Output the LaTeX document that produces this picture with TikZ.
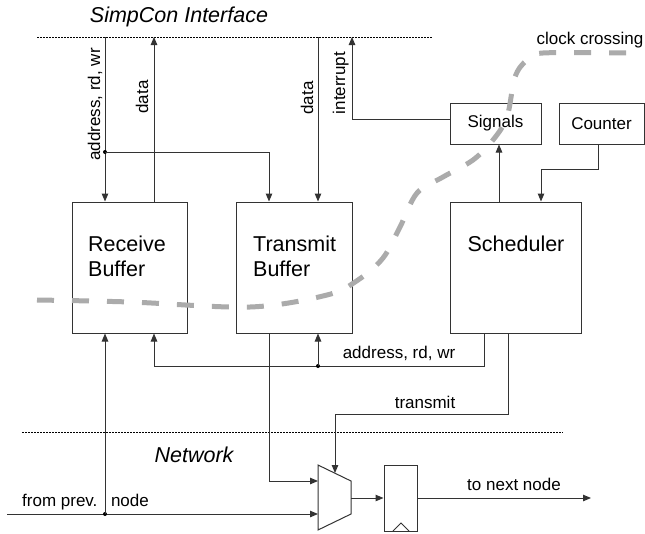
\documentclass[tikz,border=0pt]{standalone}
\usepackage{fontspec}
\setmainfont{Liberation Sans}
\usetikzlibrary{arrows.meta,calc}
\begin{document}
\begin{tikzpicture}[x=1pt,y=-1pt,
  wire/.style={draw=black!80, line width=1pt},
  arr/.style={wire, -{Triangle[length=8pt,width=6.5pt]}},
  box/.style={draw=black!80, line width=1pt, rectangle, inner sep=0pt},
  lbl/.style={font=\fontsize{17}{20}\selectfont, inner sep=0pt},
  big/.style={font=\fontsize{21.5}{25}\selectfont, inner sep=0pt},
  ttl/.style={font=\fontsize{21.5}{25}\selectfont\itshape, inner sep=0pt},
  bound/.style={draw=black, line width=0.7pt, dash pattern=on 1.5pt off 1.5pt},
  jdot/.style={circle, fill=black, inner sep=0pt, minimum size=4pt},
  clk/.style={draw=black!33, line width=5pt, dash pattern=on 17pt off 18pt}
]
\useasboundingbox (0,0) rectangle (645,533);

% boundaries
\coordinate (ta) at (37,37);   \coordinate (tb2) at (433,37);
\coordinate (ba) at (22,432);  \coordinate (bb) at (563,432);
\draw[bound] (ta) -- (tb2);
\draw[bound] (ba) -- (bb);
\node[ttl, anchor=base] (title) at (179,22) {SimpCon Interface};
\node[ttl, anchor=base] (net) at (194,462) {Network};

% boxes
\node[box, minimum width=115pt, minimum height=131pt] (rb) at (129.5,267.5) {};
\node[box, minimum width=116pt, minimum height=131pt] (tb) at (294,267.5) {};
\node[box, minimum width=131pt, minimum height=131pt] (sch) at (515.5,267.5) {};
\node[box, lbl, minimum width=91pt, minimum height=41pt] (sig) at (495.5,123.5) {Signals};
\node[box, lbl, minimum width=85pt, minimum height=41pt] (cnt) at (601.5,123.5) {Counter};
\node[big, anchor=base west, align=left] (rbt) at (88,276) {Receive\\Buffer};
\node[big, anchor=base west, align=left] (tbt) at (253,276) {Transmit\\Buffer};
\node[big, anchor=base] (scht) at (516,251) {Scheduler};

% top bus
\coordinate (t1) at (105,37);
\coordinate (t2) at (154,37);
\coordinate (t3) at (318,37);
\coordinate (t4) at (352,37);
\draw[arr] (t1) -- (t1 |- rb.north);
\draw[arr] (t2 |- rb.north) -- (t2);
\node[jdot] (j1) at (105,152) {};
\coordinate (k1) at (269,152);
\draw[arr] (j1.center) -- (k1) -- (k1 |- tb.north);
\draw[arr] (t3) -- (t3 |- tb.north);
\draw[arr] ([yshift=4pt]sig.west) -| (t4);
\node[lbl, rotate=90, anchor=base] (la) at (100,104.5) {address, rd, wr};
\node[lbl, rotate=90, anchor=base] (ld1) at (148,97) {data};
\node[lbl, rotate=90, anchor=base] (ld2) at (313,98) {data};
\node[lbl, rotate=90, anchor=base] (li) at (345,83) {interrupt};

% scheduler links
\coordinate (s1) at (499,0);
\draw[arr] (s1 |- sch.north) -- (s1 |- sig.south);
\coordinate (c1) at (598,169);
\coordinate (c2) at (541,169);
\draw[arr] (c1 |- cnt.south) -- (c1) -- (c2) -- (c2 |- sch.north);

% bottom bus
\coordinate (b1) at (154,366);
\coordinate (b3) at (484,366);
\draw[arr] (b3 |- sch.south) -- (b3) -- (b1) -- (b1 |- rb.south);
\node[jdot] (j2) at (318,366) {};
\draw[arr] (j2.center) -- (j2.center |- tb.south);
\node[lbl, anchor=base] (lb) at (399,358) {address, rd, wr};

% multiplexer and register
\coordinate (m1) at (318,465);
\coordinate (m2) at (351,481);
\coordinate (m3) at (351,514);
\coordinate (m4) at (318,530);
\draw[wire, line join=miter] (m1) -- (m2) -- (m3) -- (m4) -- cycle;
\node[box, minimum width=33pt, minimum height=66pt] (reg) at (400.5,498) {};
\coordinate (r1) at (393,531);
\coordinate (r2) at (401,523);
\coordinate (r3) at (409,531);
\draw[wire, line width=0.8pt] (r1) -- (r2) -- (r3);

\coordinate (tx) at (269,481);
\coordinate (min1) at (318,481);
\draw[arr] (tx |- tb.south) -- (tx) -- (min1);

\coordinate (s2) at (508,414);
\coordinate (s3) at (335,414);
\coordinate (mtop) at (335,473);
\draw[arr] (s2 |- sch.south) -- (s2) -- (s3) -- (mtop);
\node[lbl, anchor=base] (ltx) at (425,408) {transmit};

\coordinate (fp) at (7,514);
\coordinate (min2) at (318,514);
\draw[arr] (fp) -- (min2);
\node[jdot] (j3) at (105,514) {};
\draw[arr] (j3.center) -- (j3.center |- rb.south);
\node[lbl, anchor=base west] (lfp) at (22,506) {from prev.\hspace{7.3pt} node};

\coordinate (mout) at (351,498);
\draw[arr] (mout) -- (reg.west);
\coordinate (out) at (591,498);
\draw[arr] (reg.east) -- (out);
\node[lbl, anchor=base] (lout) at (514,490) {to next node};

% clock crossing
\draw[clk] plot[smooth, tension=0.55] coordinates {(37,300) (130,302) (250,307) (327,295) (358,280) (383,258) (400,227) (417,193) (443,177) (473,160) (493,140) (507,117) (515,77) (527,60) (543,53) (627,53)};
\node[lbl, anchor=base] (lcc) at (590,44) {clock crossing};
\end{tikzpicture}
\end{document}
